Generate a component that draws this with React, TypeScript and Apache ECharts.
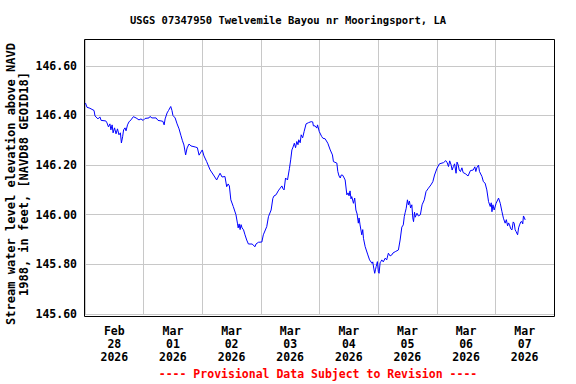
import React, { useEffect, useRef } from "react";
import * as echarts from "echarts";

const titleText = "USGS 07347950 Twelvemile Bayou nr Mooringsport, LA";
const yAxisTitle = "Stream water level elevation above NAVD\n1988, in feet, [NAVD88 GEOID18]";
const footerText = "---- Provisional Data Subject to Revision ----";

// x tick labels, one per day starting Feb 28 2026 (label centred on the day)
const dayLabels = [
  "Feb\n28\n2026",
  "Mar\n01\n2026",
  "Mar\n02\n2026",
  "Mar\n03\n2026",
  "Mar\n04\n2026",
  "Mar\n05\n2026",
  "Mar\n06\n2026",
  "Mar\n07\n2026",
];

// hours since Feb 28 2026 00:00
const hours = [
  0.2, 0.8, 2.0, 3.7, 4.1, 5.3, 6.1, 6.6, 8.5, 9.0, 9.6, 10.2, 10.6, 11.1, 11.5, 12.1, 12.7, 13.3, 13.9, 14.5,
  14.9, 15.4, 15.8, 16.4, 16.8, 17.4, 18.0, 18.8, 19.8, 20.9, 22.1, 22.9, 23.8, 24.6, 26.2, 26.6, 27.4, 29.1, 29.9, 31.1,
  31.9, 32.4, 32.8, 33.6, 34.2, 35.1, 35.6, 36.0, 36.9, 37.7, 38.5, 39.3, 39.9, 40.5, 41.2, 41.8, 42.6, 43.4, 45.1, 46.0,
  46.7, 47.5, 48.0, 48.7, 49.8, 51.2, 52.6, 53.9, 54.7, 55.3, 56.1, 57.3, 58.0, 58.6, 59.1, 59.7, 60.7, 61.8, 62.4, 62.7,
  63.1, 63.5, 63.9, 64.3, 64.9, 65.5, 66.2, 66.9, 68.4, 69.6, 70.0, 71.0, 72.4, 73.0, 74.4, 75.1, 76.2, 76.9, 77.4, 78.2,
  79.1, 79.9, 80.6, 81.1, 81.5, 82.1, 82.9, 83.7, 84.2, 84.7, 85.2, 85.7, 86.2, 86.7, 87.2, 87.5, 88.1, 88.5, 89.1, 89.7,
  90.5, 91.5, 92.6, 93.2, 93.5, 94.2, 94.9, 95.2, 95.9, 96.9, 97.4, 98.3, 99.4, 100.4, 101.3, 101.7, 103.1, 103.5, 104.0, 104.5,
  104.9, 105.4, 105.9, 106.5, 107.2, 107.7, 108.1, 108.5, 108.9, 109.2, 109.9, 110.4, 110.9, 111.4, 111.9, 112.2, 112.6, 113.3, 113.7, 114.0,
  114.7, 115.8, 116.5, 117.5, 117.8, 118.2, 118.6, 118.9, 119.2, 119.7, 120.1, 120.4, 120.8, 121.1, 121.5, 122.1, 122.9, 123.5, 124.2, 124.9,
  125.6, 126.1, 127.0, 128.3, 129.0, 129.7, 130.3, 130.7, 131.1, 131.5, 132.0, 132.4, 132.8, 133.3, 133.8, 134.2, 134.5, 134.9, 135.2, 135.9,
  136.5, 137.3, 138.0, 138.9, 139.6, 140.6, 141.6, 142.4, 143.1, 144.1, 145.1, 146.8, 147.7, 148.3, 148.8, 149.3, 149.9, 150.3, 150.8, 151.3,
  151.9, 152.3, 152.8, 153.2, 153.7, 154.3, 154.8, 155.9, 156.8, 157.8, 158.9, 159.6, 160.0, 160.4, 161.1, 161.5, 162.5, 163.1, 163.8, 164.5,
  165.2, 165.9, 166.3, 166.6, 167.0, 167.5, 168.3, 169.3, 170.0, 170.7, 171.3, 172.0, 172.5, 173.0, 173.4, 173.8, 174.3, 174.8, 175.3, 175.7,
  176.1, 176.5, 177.1, 177.5, 177.9, 178.4, 178.9, 179.2, 179.5, 179.9, 180.2,
];

// water level elevation, feet
const stage = [
  146.45, 146.433, 146.429, 146.42, 146.398, 146.386, 146.394, 146.38, 146.378, 146.37, 146.354, 146.366, 146.342, 146.362, 146.33, 146.35, 146.326, 146.346, 146.322, 146.33,
  146.289, 146.314, 146.342, 146.35, 146.338, 146.362, 146.374, 146.382, 146.395, 146.39, 146.382, 146.386, 146.38, 146.388, 146.39, 146.396, 146.39, 146.39, 146.38, 146.378,
  146.376, 146.362, 146.386, 146.41, 146.42, 146.436, 146.42, 146.4, 146.39, 146.366, 146.346, 146.318, 146.298, 146.281, 146.241, 146.269, 146.285, 146.277, 146.273, 146.27,
  146.24, 146.253, 146.261, 146.237, 146.214, 146.181, 146.16, 146.14, 146.156, 146.167, 146.152, 146.154, 146.113, 146.124, 146.116, 146.06, 146.033, 146.0, 145.966, 145.947,
  145.963, 145.94, 145.96, 145.947, 145.939, 145.919, 145.898, 145.882, 145.882, 145.871, 145.882, 145.889, 145.89, 145.919, 145.952, 145.992, 146.019, 146.066, 146.076, 146.08,
  146.096, 146.107, 146.116, 146.104, 146.1, 146.148, 146.14, 146.187, 146.221, 146.261, 146.273, 146.288, 146.27, 146.295, 146.282, 146.302, 146.29, 146.322, 146.31, 146.335,
  146.366, 146.371, 146.375, 146.374, 146.358, 146.358, 146.349, 146.362, 146.335, 146.315, 146.308, 146.306, 146.288, 146.261, 146.241, 146.214, 146.208, 146.174, 146.156, 146.148,
  146.16, 146.16, 146.152, 146.14, 146.08, 146.088, 146.076, 146.096, 146.064, 146.073, 146.046, 146.067, 146.019, 146.003, 145.966, 145.987, 145.959, 145.919, 145.94, 145.905,
  145.871, 145.838, 145.818, 145.804, 145.81, 145.785, 145.764, 145.778, 145.791, 145.811, 145.77, 145.764, 145.806, 145.811, 145.818, 145.81, 145.825, 145.818, 145.845, 145.834,
  145.838, 145.846, 145.851, 145.858, 145.898, 145.95, 145.959, 145.992, 146.01, 146.026, 146.06, 146.04, 146.055, 146.027, 146.04, 145.987, 145.972, 146.01, 145.99, 146.006,
  145.995, 146.0, 146.04, 146.06, 146.093, 146.107, 146.12, 146.133, 146.16, 146.187, 146.205, 146.21, 146.218, 146.209, 146.194, 146.217, 146.2, 146.18, 146.194, 146.205,
  146.167, 146.212, 146.2, 146.18, 146.174, 146.189, 146.17, 146.164, 146.156, 146.178, 146.18, 146.193, 146.174, 146.189, 146.2, 146.174, 146.154, 146.133, 146.127, 146.1,
  146.053, 146.033, 146.048, 146.012, 146.04, 146.019, 146.046, 146.067, 146.046, 146.012, 145.986, 145.966, 145.98, 145.955, 145.967, 145.959, 145.943, 145.939, 145.971, 145.966,
  145.939, 145.932, 145.919, 145.947, 145.959, 145.971, 145.972, 145.963, 145.995, 145.987, 145.979,
];

const FONT = "DejaVu Sans Mono";

function toNum(v: any): number {
  if (typeof v === "number") return v;
  if (v && typeof v === "object" && "value" in v) return Number(v.value);
  return parseFloat(String(v));
}

export default function App() {
  const ref = useRef<HTMLDivElement>(null);

  useEffect(() => {
    if (!ref.current) return;
    const chart = echarts.init(ref.current, undefined, { renderer: "svg" });
    const data = hours.map((h, i) => [h, stage[i]]);

    chart.setOption({
      animation: false,
      backgroundColor: "#ffffff",
      // plot area: the 145.60 line sits 2px above the bottom frame, which is drawn separately
      grid: { left: 85, right: 22, top: 39, bottom: 70 },
      xAxis: [
        {
          type: "value",
          min: 0,
          max: 192,
          interval: 24,
          axisLine: { show: false },
          axisTick: { show: false },
          axisLabel: { show: false },
          splitLine: { show: true, lineStyle: { color: "#c8c8c8", width: 1 } },
        },
        {
          // label axis: ticks every 12 h, only the noon ticks carry the day label
          type: "value",
          position: "bottom",
          min: 0,
          max: 192,
          interval: 12,
          offset: 2,
          axisLine: { show: false },
          axisTick: { show: false },
          splitLine: { show: false },
          axisLabel: {
            show: true,
            margin: 8,
            color: "#000000",
            fontFamily: FONT,
            fontWeight: "bold",
            fontSize: 11.5,
            lineHeight: 13,
            formatter: (v: any) => {
              const n = toNum(v) - 12;
              const idx = Math.round(n / 24);
              if (!isFinite(n) || Math.abs(n - idx * 24) > 1e-6 || idx < 0 || idx >= dayLabels.length) return "";
              return dayLabels[idx];
            },
          },
        },
      ],
      yAxis: {
        type: "value",
        min: 145.6,
        max: 146.708,
        interval: 0.2,
        axisLine: { show: false },
        axisTick: { show: false },
        splitLine: { show: true, lineStyle: { color: "#c8c8c8", width: 1 } },
        axisLabel: {
          show: true,
          margin: 8,
          color: "#000000",
          fontFamily: FONT,
          fontWeight: "bold",
          fontSize: 11.5,
          formatter: (v: any) => {
            const n = toNum(v);
            const k = n / 0.2;
            if (!isFinite(n) || Math.abs(k - Math.round(k)) > 1e-4) return "";
            return n.toFixed(2);
          },
        },
      },
      series: [
        {
          type: "line",
          xAxisIndex: 0,
          yAxisIndex: 0,
          data,
          showSymbol: false,
          symbol: "none",
          lineStyle: { color: "#0000ff", width: 1 },
          z: 3,
        },
      ],
      graphic: [
        {
          type: "rect",
          z: 100,
          shape: { x: 84.5, y: 39.5, width: 470, height: 277 },
          style: { fill: "transparent", stroke: "#000", lineWidth: 1 },
          silent: true,
        },
        {
          type: "text",
          x: 288,
          y: 20,
          style: {
            text: titleText,
            font: `bold 10.5px "${FONT}"`,
            fill: "#000",
            align: "center",
            verticalAlign: "middle",
          },
        },
        {
          type: "text",
          x: 17,
          y: 184,
          rotation: Math.PI / 2,
          style: {
            text: yAxisTitle,
            font: `bold 12px "${FONT}"`,
            lineHeight: 13,
            fill: "#000",
            align: "center",
            verticalAlign: "middle",
          },
        },
        {
          type: "text",
          x: 318,
          y: 374,
          style: {
            text: footerText,
            font: `bold 11.5px "${FONT}"`,
            fill: "#ff0000",
            align: "center",
            verticalAlign: "middle",
          },
        },
      ],
    });

    return () => chart.dispose();
  }, []);

  return (
    <div
      ref={ref}
      style={{ position: "fixed", left: 0, top: 0, width: 576, height: 384, background: "#fff" }}
    />
  );
}
